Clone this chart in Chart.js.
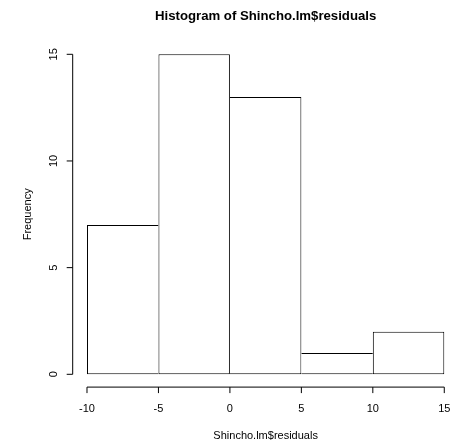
<!DOCTYPE html>
<html>
<head>
<meta charset="utf-8">
<script src="https://cdn.jsdelivr.net/npm/chart.js@4/dist/chart.umd.min.js"></script>
<style>
  html, body { margin: 0; padding: 0; background: #ffffff; }
  canvas { display: block; }
</style>
</head>
<body>
<canvas id="hist" width="457" height="445"></canvas>
<script>
// Histogram bins (break points) and the count in each bin
const breaks = [-10, -5, 0, 5, 10, 15];
const counts = [7, 15, 13, 1, 2];

// Axis tick values
const xTicks = [-10, -5, 0, 5, 10, 15];
const yTicks = [0, 5, 10, 15];

const mainTitle = 'Histogram of Shincho.lm$residuals';
const xTitle = 'Shincho.lm$residuals';
const yTitle = 'Frequency';

// Bar centres from the breaks
const points = counts.map((c, i) => ({ x: (breaks[i] + breaks[i + 1]) / 2, y: c }));

// Shared edges between neighbouring bins are drawn once, by the taller bin
function edgeWidths(i) {
  const n = counts.length;
  return {
    top: 1,
    bottom: 1,
    left: (i === 0 || counts[i] >= counts[i - 1]) ? 1 : 0,
    right: (i === n - 1 || counts[i] > counts[i + 1]) ? 1 : 0
  };
}

const FONT = '"Liberation Sans", Arial, Helvetica, sans-serif';

// Base-graphics style axes: a line spanning the first to last tick, outward ticks, labels
const rAxes = {
  id: 'rAxes',
  beforeDraw(chart) {
    const ctx = chart.ctx;
    ctx.save();
    ctx.fillStyle = '#ffffff';
    ctx.fillRect(0, 0, chart.width, chart.height);
    ctx.restore();
  },
  afterDraw(chart) {
    const ctx = chart.ctx;
    const xs = chart.scales.x, ys = chart.scales.y;
    const area = chart.chartArea;
    const tick = 6;
    ctx.save();
    ctx.strokeStyle = '#000000';
    ctx.fillStyle = '#000000';
    ctx.lineWidth = 1;

    // x axis
    const yAxis = area.bottom;
    ctx.beginPath();
    ctx.moveTo(xs.getPixelForValue(xTicks[0]), yAxis);
    ctx.lineTo(xs.getPixelForValue(xTicks[xTicks.length - 1]), yAxis);
    xTicks.forEach(v => {
      const px = xs.getPixelForValue(v);
      ctx.moveTo(px, yAxis);
      ctx.lineTo(px, yAxis + tick);
    });
    ctx.stroke();
    ctx.font = '11px ' + FONT;
    ctx.textAlign = 'center';
    ctx.textBaseline = 'alphabetic';
    xTicks.forEach(v => {
      ctx.fillText(String(v), xs.getPixelForValue(v), yAxis + 24.7);
    });

    // y axis
    const xAxis = area.left;
    ctx.beginPath();
    ctx.moveTo(xAxis, ys.getPixelForValue(yTicks[0]));
    ctx.lineTo(xAxis, ys.getPixelForValue(yTicks[yTicks.length - 1]));
    yTicks.forEach(v => {
      const py = ys.getPixelForValue(v);
      ctx.moveTo(xAxis, py);
      ctx.lineTo(xAxis - tick, py);
    });
    ctx.stroke();
    yTicks.forEach(v => {
      ctx.save();
      ctx.translate(xAxis - 15.4, ys.getPixelForValue(v));
      ctx.rotate(-Math.PI / 2);
      ctx.fillText(String(v), 0, 0);
      ctx.restore();
    });

    // titles are centred on the plotting region
    const midX = (xs.getPixelForValue(xTicks[0] - 1) + xs.getPixelForValue(xTicks[xTicks.length - 1] + 1)) / 2;
    ctx.fillText(xTitle, midX, 438.6);
    ctx.save();
    ctx.translate(30.6, (area.top + area.bottom) / 2);
    ctx.rotate(-Math.PI / 2);
    ctx.fillText(yTitle, 0, 0);
    ctx.restore();

    ctx.font = 'bold 13.2px ' + FONT;
    ctx.fillText(mainTitle, midX, 19.5);
    ctx.restore();
  }
};

new Chart(document.getElementById('hist'), {
  type: 'bar',
  data: {
    datasets: [{
      data: points,
      backgroundColor: '#ffffff',
      borderColor: '#000000',
      borderWidth: (c) => edgeWidths(c.dataIndex),
      borderSkipped: false,
      inflateAmount: 0,
      barPercentage: 1,
      categoryPercentage: 1
    }]
  },
  options: {
    responsive: false,
    animation: false,
    devicePixelRatio: 1,
    layout: { padding: { left: 72.7, top: 41.5, right: 0, bottom: 57.9 } },
    plugins: { legend: { display: false }, title: { display: false }, tooltip: { enabled: false } },
    scales: {
      x: { type: 'linear', min: -11, max: 15.89, offset: false, grid: { offset: false }, display: false },
      y: { type: 'linear', min: -0.6, max: 15.6, display: false }
    }
  },
  plugins: [rAxes]
});
</script>
</body>
</html>
